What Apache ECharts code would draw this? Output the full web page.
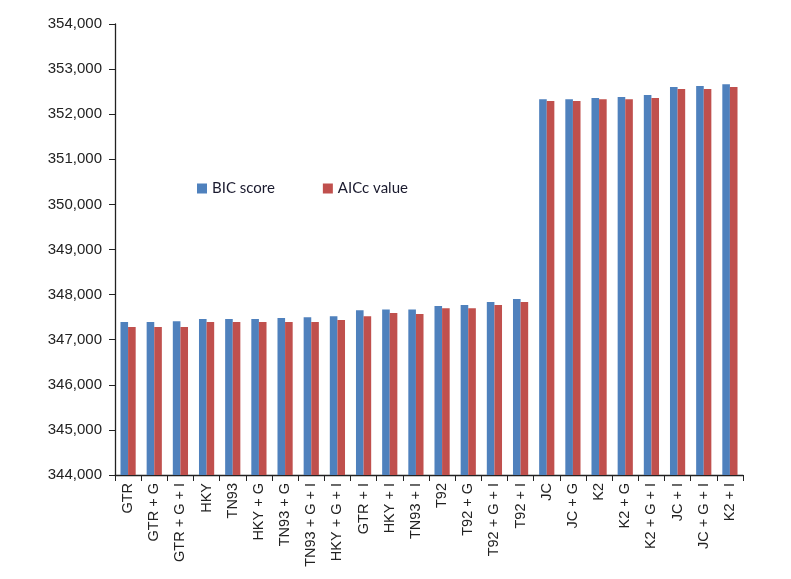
<!DOCTYPE html>
<html>
<head>
<meta charset="utf-8">
<script src="https://cdn.jsdelivr.net/npm/echarts@6/dist/echarts.min.js"></script>
<style>
html,body{margin:0;padding:0;background:#fff;}
#chart{width:791px;height:579px;}
</style>
</head>
<body>
<div id="chart"></div>
<script>
const categories = ["GTR","GTR + G","GTR + G + I","HKY","TN93","HKY + G","TN93 + G","TN93 + G + I","HKY + G + I","GTR + I","HKY + I","TN93 + I","T92","T92 + G","T92 + G + I","T92 + I","JC","JC + G","K2","K2 + G","K2 + G + I","JC + I","JC + G + I","K2 + I"];
const bicScore = [347390,347390,347410,347460,347460,347460,347480,347500,347520,347655,347670,347670,347745,347770,347835,347900,352330,352330,352360,352381,352426,352603,352625,352662];
const aiccValue = [347280,347280,347280,347390,347390,347390,347390,347390,347435,347520,347590,347570,347700,347700,347770,347835,352293,352293,352330,352330,352360,352559,352559,352603];
const yTicks = {min:344000, max:354000, interval:1000};

const chart = echarts.init(document.getElementById('chart'));
chart.setOption({
  animation:false,
  backgroundColor:'#fff',
  grid:{left:115, right:48, top:24, bottom:104, containLabel:false},
  legend:{
    left:192, top:176, itemWidth:10, itemHeight:10, itemGap:48,
    icon:'rect',
    textStyle:{fontFamily:'Lato', fontSize:15, color:'#1a1a2e'},
    data:['BIC score','AICc value']
  },
  xAxis:{
    type:'category', data:categories,
    axisLine:{lineStyle:{color:'#222', width:1.3}},
    axisTick:{show:true, length:6, lineStyle:{color:'#222'}},
    axisLabel:{rotate:90, interval:0, fontFamily:'Liberation Sans', fontSize:14.5, color:'#222', margin:8}
  },
  yAxis:{
    type:'value', min:yTicks.min, max:yTicks.max, interval:yTicks.interval,
    axisLine:{show:true, lineStyle:{color:'#222', width:1.3}},
    axisTick:{show:true, length:6, lineStyle:{color:'#222'}},
    splitLine:{show:false},
    axisLabel:{fontFamily:'Liberation Sans', fontSize:15, color:'#222', margin:13,
      formatter:v=>v.toLocaleString('en-US')}
  },
  series:[
    {name:'BIC score', type:'bar', data:bicScore, barWidth:7.6, barGap:'0%', itemStyle:{color:'#4F81BD'}},
    {name:'AICc value', type:'bar', data:aiccValue, barWidth:7.6, barGap:'0%', itemStyle:{color:'#C0504D'}}
  ]
});
</script>
</body>
</html>
